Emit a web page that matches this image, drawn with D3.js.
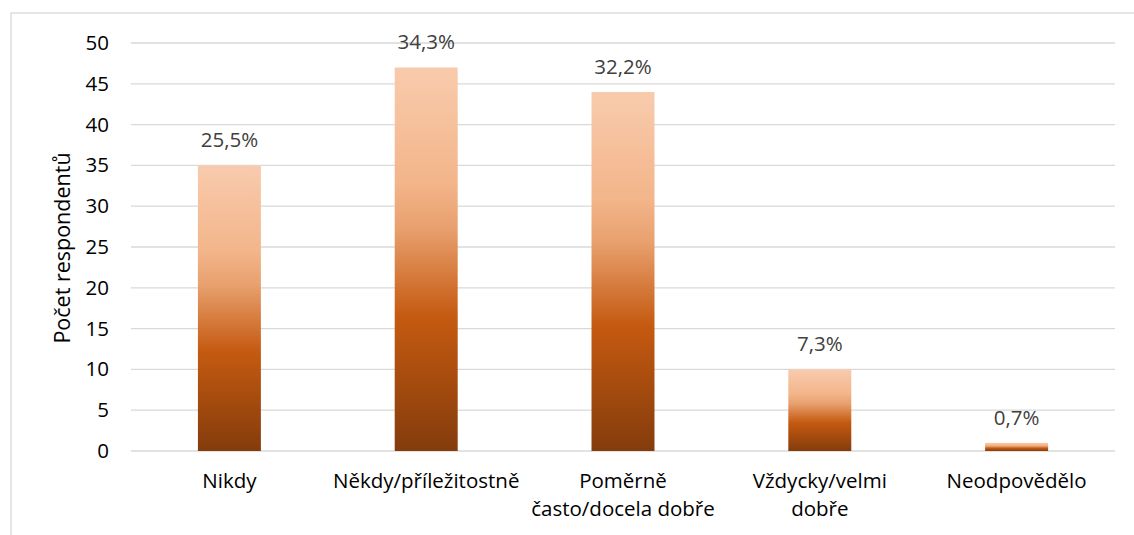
<!DOCTYPE html>
<html><head><meta charset="utf-8">
<script src="https://cdn.jsdelivr.net/npm/d3@7"></script>
<style>body{margin:0;background:#fff}svg{display:block}text{font-family:"Open Sans",sans-serif}</style>
</head><body>
<script>
const categories = [["Nikdy"], ["Někdy/příležitostně"], ["Poměrně", "často/docela dobře"], ["Vždycky/velmi", "dobře"], ["Neodpovědělo"]];
const values = [35, 47, 44, 10, 1];
const percentLabels = ["25,5%", "34,3%", "32,2%", "7,3%", "0,7%"];
const yTicks = [0, 5, 10, 15, 20, 25, 30, 35, 40, 45, 50];
const yTitle = "Počet respondentů";

const W = 1134, H = 535, FS = 20.5;
const svg = d3.select("body").append("svg").attr("width", W).attr("height", H);

// frame
svg.append("rect").attr("x", 11).attr("y", 13).attr("width", 1140).attr("height", 540)
  .attr("fill", "none").attr("stroke", "#d9d9d9").attr("stroke-width", 1.3);

const defs = svg.append("defs");
const grad = defs.append("linearGradient").attr("id", "g").attr("x1", 0).attr("y1", 0).attr("x2", 0).attr("y2", 1);
[[0, "#f8cbad"], [0.3, "#f3b58a"], [0.42, "#e8a06e"], [0.65, "#c55a11"], [1, "#843c0c"]]
  .forEach(([o, c]) => grad.append("stop").attr("offset", o).attr("stop-color", c));

const x = d3.scaleBand().domain(d3.range(values.length)).range([131, 1115]).paddingInner(0.68).paddingOuter(0.34);
const y = d3.scaleLinear().domain([0, 50]).range([451, 43]);

// gridlines
svg.append("g").selectAll("line").data(yTicks).join("line")
  .attr("x1", 131).attr("x2", 1115).attr("y1", d => y(d)).attr("y2", d => y(d))
  .attr("stroke", "#d9d9d9").attr("stroke-width", 1.3);

// y axis labels
const yAxis = svg.append("g").attr("transform", "translate(109,0)")
  .call(d3.axisLeft(y).tickValues(yTicks).tickSize(0).tickPadding(0));
yAxis.select(".domain").remove();
yAxis.selectAll("text").attr("font-size", FS).attr("fill", "#000").attr("font-family", "'Open Sans',sans-serif");

// bars
svg.append("g").selectAll("rect").data(values).join("rect")
  .attr("x", (d, i) => x(i)).attr("width", x.bandwidth())
  .attr("y", d => y(d)).attr("height", d => y(0) - y(d))
  .attr("fill", "url(#g)");

// data labels
svg.append("g").selectAll("text").data(values).join("text")
  .attr("x", (d, i) => x(i) + x.bandwidth() / 2).attr("y", d => y(d) - 18)
  .attr("text-anchor", "middle").attr("font-size", FS).attr("fill", "#404040")
  .text((d, i) => percentLabels[i]);

// category labels
const cat = svg.append("g").selectAll("text").data(categories).join("text")
  .attr("text-anchor", "middle").attr("font-size", FS).attr("fill", "#000");
cat.each(function(lines, i) {
  d3.select(this).selectAll("tspan").data(lines).join("tspan")
    .attr("x", x(i) + x.bandwidth() / 2).attr("y", (l, j) => 488 + j * 28).text(l => l);
});

// y title
svg.append("text").attr("transform", "translate(70,248) rotate(-90)")
  .attr("text-anchor", "middle").attr("font-size", 21.5).attr("fill", "#000").text(yTitle);
</script>
</body></html>
